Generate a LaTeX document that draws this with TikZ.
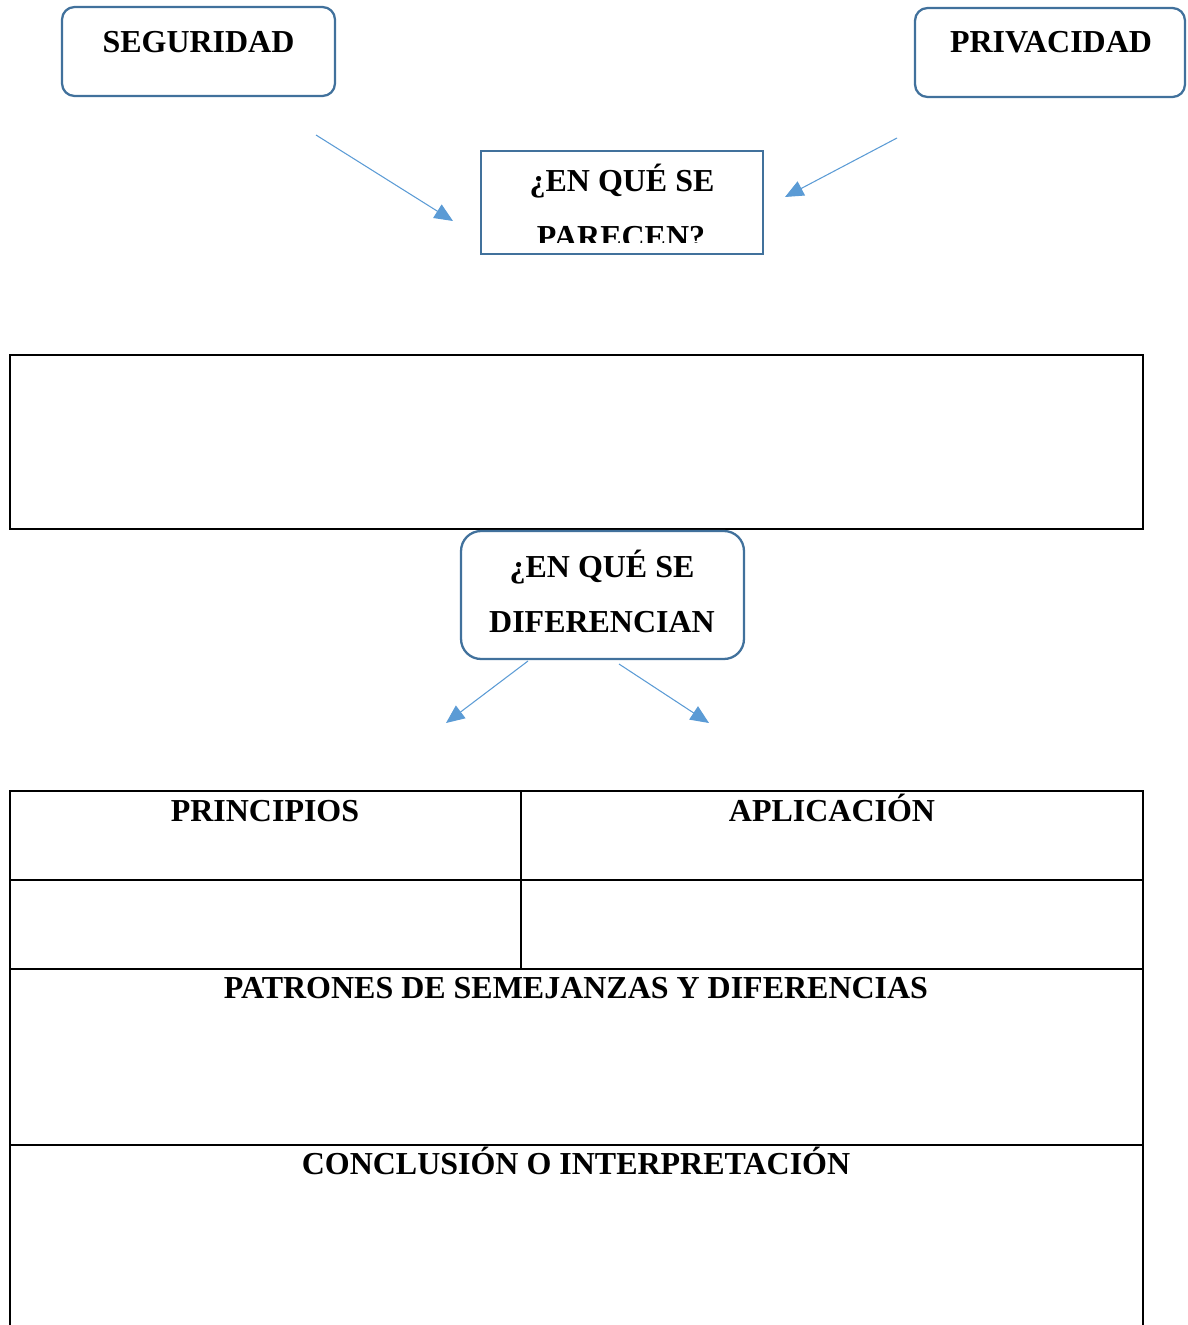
\documentclass[tikz,border=0pt]{standalone}
\usepackage{fontspec}
\setmainfont{Liberation Serif}
\usetikzlibrary{positioning, arrows.meta}
\usepackage{xcolor}

\definecolor{boxblue}{HTML}{41719C}
\definecolor{arrowblue}{HTML}{5B9BD5}

\begin{document}
\begin{tikzpicture}[x=0.02cm, y=-0.02cm,
    title/.style={font=\fontsize{18.2}{22}\selectfont\bfseries, anchor=base, inner sep=0pt},
    roundbox/.style={draw=boxblue, line width=1.3pt, rounded corners=0.25cm},
    flecha/.style={draw=arrowblue, line width=0.6pt, -{Triangle[length=10.5pt, width=9pt]}},
    tabla/.style={draw=black, line width=1pt}]
  \useasboundingbox (0,0) rectangle (1187,1325);

  % cajas de arriba
  \node[roundbox, minimum width=5.46cm, minimum height=1.78cm] (seg) at (198.5,51.5) {};
  \node[title] (segtxt) at (198.5,52.5) {SEGURIDAD};
  \node[roundbox, minimum width=5.4cm, minimum height=1.78cm] (priv) at (1050,52.5) {};
  \node[title] (privtxt) at (1051,52.5) {PRIVACIDAD};

  % pregunta 1 (texto recortado)
  \begin{scope}
    \clip (483,153) rectangle (761,242);
    \node[title] (par1) at (622,191.5) {¿EN QUÉ SE};
    \node[title] (par2) at (621,247.5) {PARECEN?};
  \end{scope}
  \node[draw=boxblue, line width=1.3pt, minimum width=5.64cm, minimum height=2.06cm] (parecen) at (622,202.5) {};

  \coordinate (a1s) at (316,135);
  \coordinate (a1e) at (453,221);
  \coordinate (a2s) at (897,138);
  \coordinate (a2e) at (785,197);
  \draw[flecha] (a1s) -- (a1e);
  \draw[flecha] (a2s) -- (a2e);

  % recuadro vacio
  \node[tabla, minimum width=22.66cm, minimum height=3.48cm] (vacio) at (576.5,442) {};

  % pregunta 2
  \node[roundbox, rounded corners=0.4cm, minimum width=5.66cm, minimum height=2.56cm] (difer) at (602.5,595) {};
  \node[title] (dif1) at (602,577.5) {¿EN QUÉ SE};
  \node[title] (dif2) at (602,632.5) {DIFERENCIAN};

  \coordinate (a3s) at (528,661);
  \coordinate (a3e) at (446,723);
  \coordinate (a4s) at (619,664);
  \coordinate (a4e) at (709,723);
  \draw[flecha] (a3s) -- (a3e);
  \draw[flecha] (a4s) -- (a4e);

  % tabla de abajo
  \coordinate (t1) at (10,1325);
  \coordinate (t2) at (10,791);
  \coordinate (t3) at (1143,791);
  \coordinate (t4) at (1143,1325);
  \draw[tabla] (t1) -- (t2) -- (t3) -- (t4);
  \draw[tabla] (10,880) -- (1143,880);
  \draw[tabla] (10,969) -- (1143,969);
  \draw[tabla] (10,1145) -- (1143,1145);
  \draw[tabla] (521,791) -- (521,969);

  \node[title] (princ) at (265,821.5) {PRINCIPIOS};
  \node[title] (aplic) at (832,821.5) {APLICACIÓN};
  \node[title] (patron) at (576,998.5) {PATRONES DE SEMEJANZAS Y DIFERENCIAS};
  \node[title] (concl) at (576,1174.5) {CONCLUSIÓN O INTERPRETACIÓN};
\end{tikzpicture}
\end{document}
